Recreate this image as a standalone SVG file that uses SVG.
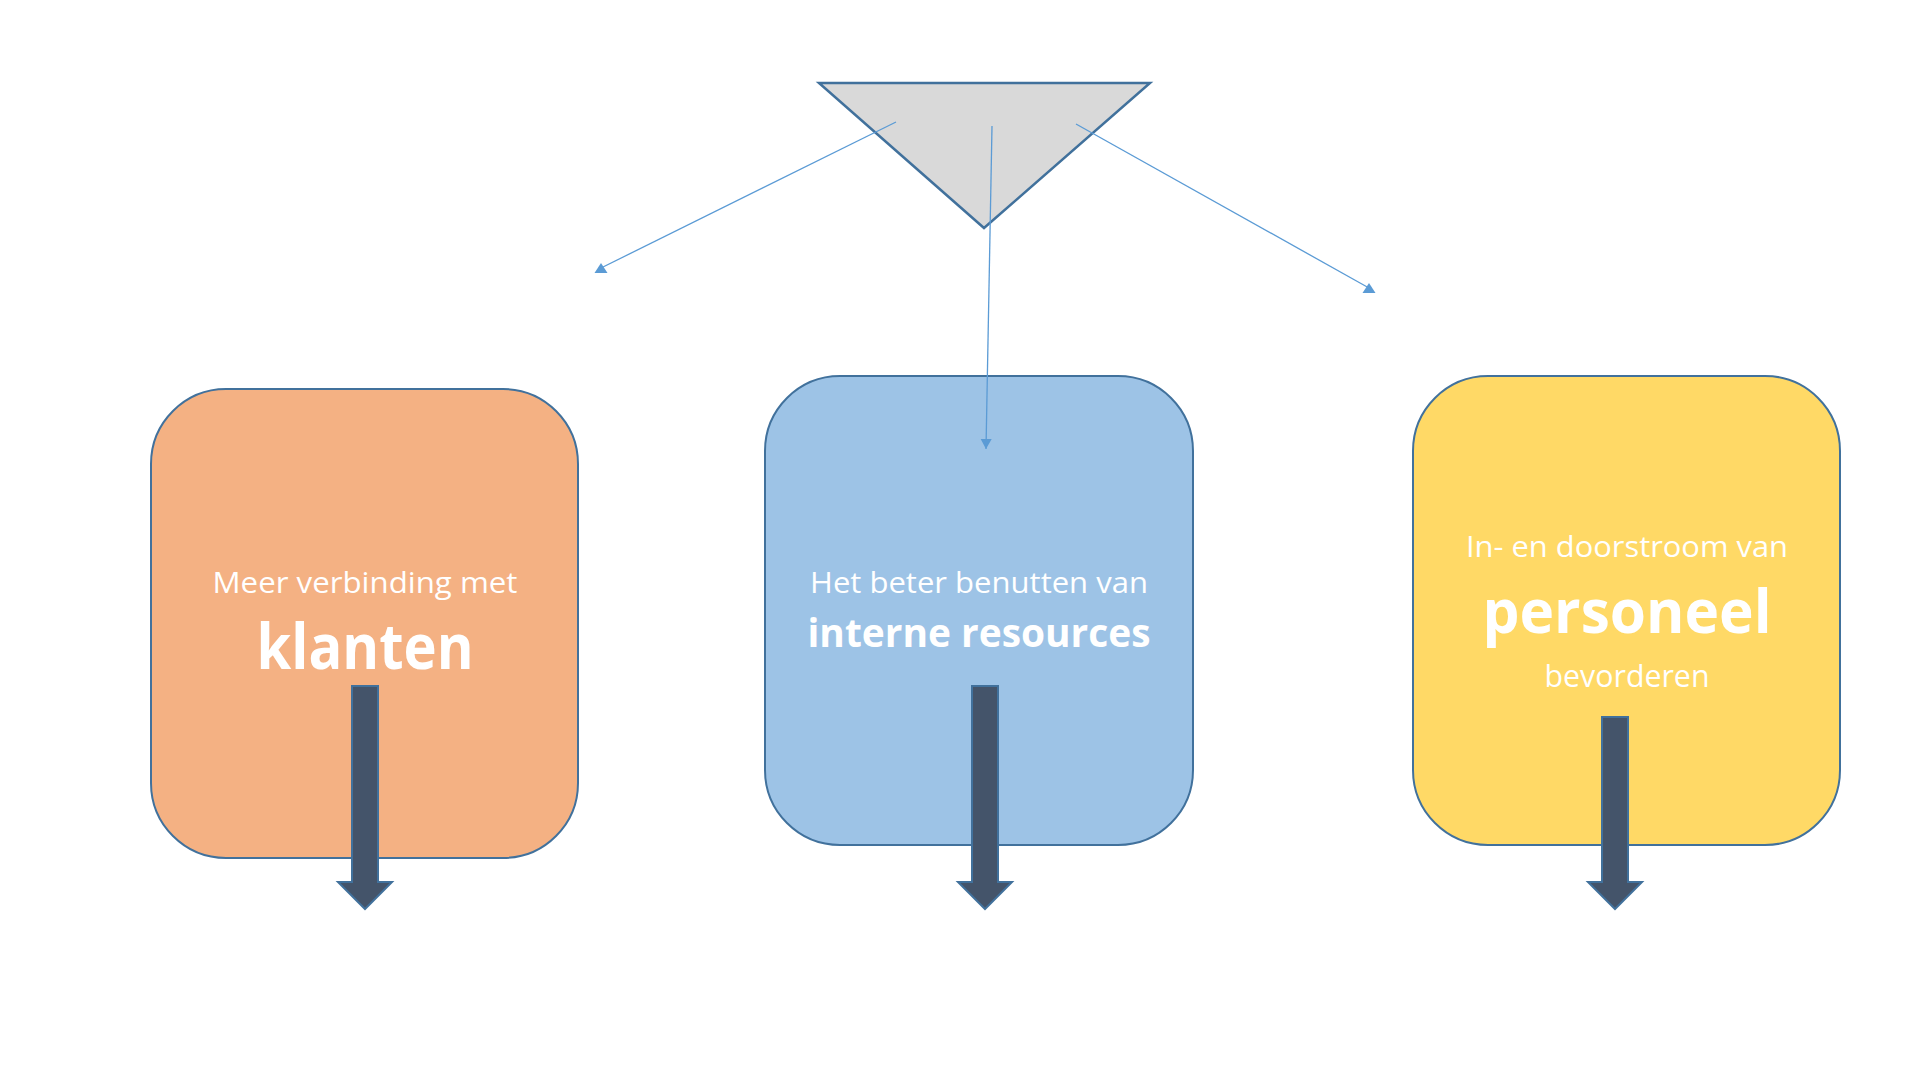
<svg xmlns="http://www.w3.org/2000/svg" width="1920" height="1080" viewBox="0 0 1920 1080">
<style>
.box{stroke:#41719C;stroke-width:2}
.t{fill:#FFFFFF;font-family:"Open Sans","Noto Sans",sans-serif;text-anchor:middle}
.b{font-weight:bold}
.conn{stroke:#5B9BD5;stroke-width:1.3;fill:none}
.blk{fill:#44546A;stroke:#41719C;stroke-width:2}
</style>
<defs>
<marker id="triUp" markerUnits="userSpaceOnUse" markerWidth="14" markerHeight="11" refX="6.5" refY="5" orient="0" overflow="visible">
<path d="M0,10 L6.5,0 L13,10 Z" fill="#5B9BD5"/>
</marker>
<marker id="triFwd" markerUnits="userSpaceOnUse" markerWidth="11" markerHeight="11" refX="10" refY="5.5" orient="auto" overflow="visible">
<path d="M0,0 L10,5.5 L0,11 Z" fill="#5B9BD5"/>
</marker>
</defs>
<rect width="1920" height="1080" fill="#FFFFFF"/>
<g id="triangle">
<polygon points="819,83 1150,83 984,228" fill="#D9D9D9" stroke="#41719C" stroke-width="2.5" stroke-linejoin="miter"/>
</g>
<g id="node-klanten">
<rect class="box" x="151" y="389" width="427" height="469" rx="75" ry="75" fill="#F4B183"/>
<text class="t" x="365" y="593" font-size="30" textLength="305" lengthAdjust="spacingAndGlyphs">Meer verbinding met</text>
<text class="t b" x="365" y="669" font-size="63" textLength="217" lengthAdjust="spacingAndGlyphs">klanten</text>
<path class="blk" d="M352,686 H378 V882 H392 L365,909 L338,882 H352 Z"/>
</g>
<g id="node-resources">
<rect class="box" x="765" y="376" width="428" height="469" rx="75" ry="75" fill="#9DC3E6"/>
<text class="t" x="979" y="593" font-size="30" textLength="338" lengthAdjust="spacingAndGlyphs">Het beter benutten van</text>
<text class="t b" x="979" y="647" font-size="40" textLength="343" lengthAdjust="spacingAndGlyphs">interne resources</text>
<path class="blk" d="M972,686 H998 V882 H1012 L985,909 L958,882 H972 Z"/>
</g>
<g id="node-personeel">
<rect class="box" x="1413" y="376" width="427" height="469" rx="75" ry="75" fill="#FFD966"/>
<text class="t" x="1627" y="557" font-size="30" textLength="322" lengthAdjust="spacingAndGlyphs">In- en doorstroom van</text>
<text class="t b" x="1627" y="633" font-size="60" textLength="289" lengthAdjust="spacingAndGlyphs">personeel</text>
<text class="t" x="1627" y="687" font-size="31" textLength="165" lengthAdjust="spacingAndGlyphs">bevorderen</text>
<path class="blk" d="M1602,717 H1628 V882 H1642 L1615,909 L1588,882 H1602 Z"/>
</g>
<g id="connectors">
<line class="conn" x1="896" y1="122" x2="601" y2="268" marker-end="url(#triUp)"/>
<line class="conn" x1="992" y1="126" x2="986" y2="449" marker-end="url(#triFwd)"/>
<line class="conn" x1="1076" y1="124" x2="1369" y2="288" marker-end="url(#triUp)"/>
</g>
</svg>
